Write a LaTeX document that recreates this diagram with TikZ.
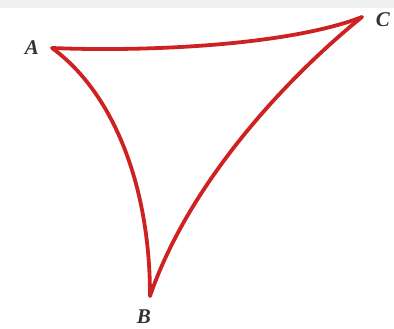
\documentclass[tikz,border=0pt]{standalone}
\usepackage{fontspec}
\setmainfont{Liberation Serif}
\begin{document}
\begin{tikzpicture}[x=1pt,y=-1pt,
  edge/.style={draw=redline,line width=3.8pt,line cap=round,line join=round},
  lbl/.style={inner sep=0pt,font=\fontsize{21}{24}\selectfont\bfseries\itshape}]
\definecolor{redline}{HTML}{CE2222}
\useasboundingbox (0,0) rectangle (394,329);
\fill[black!6] (0,0) rectangle (394,8);
\coordinate (A) at (52,48);
\coordinate (B) at (150,296);
\coordinate (C) at (362,17);
\draw[edge] (A) .. controls (150,52) and (290,45) .. (C);
\draw[edge] (A) .. controls (110,90) and (150,180) .. (B);
\draw[edge] (C) .. controls (290,75) and (190,180) .. (B);
\node[lbl,text=black!80] (la) at (32,48) {A};
\node[lbl,text=black!80] (lb) at (144,317) {B};
\node[lbl,text=black!80] (lc) at (383,20) {C};
\end{tikzpicture}
\end{document}
